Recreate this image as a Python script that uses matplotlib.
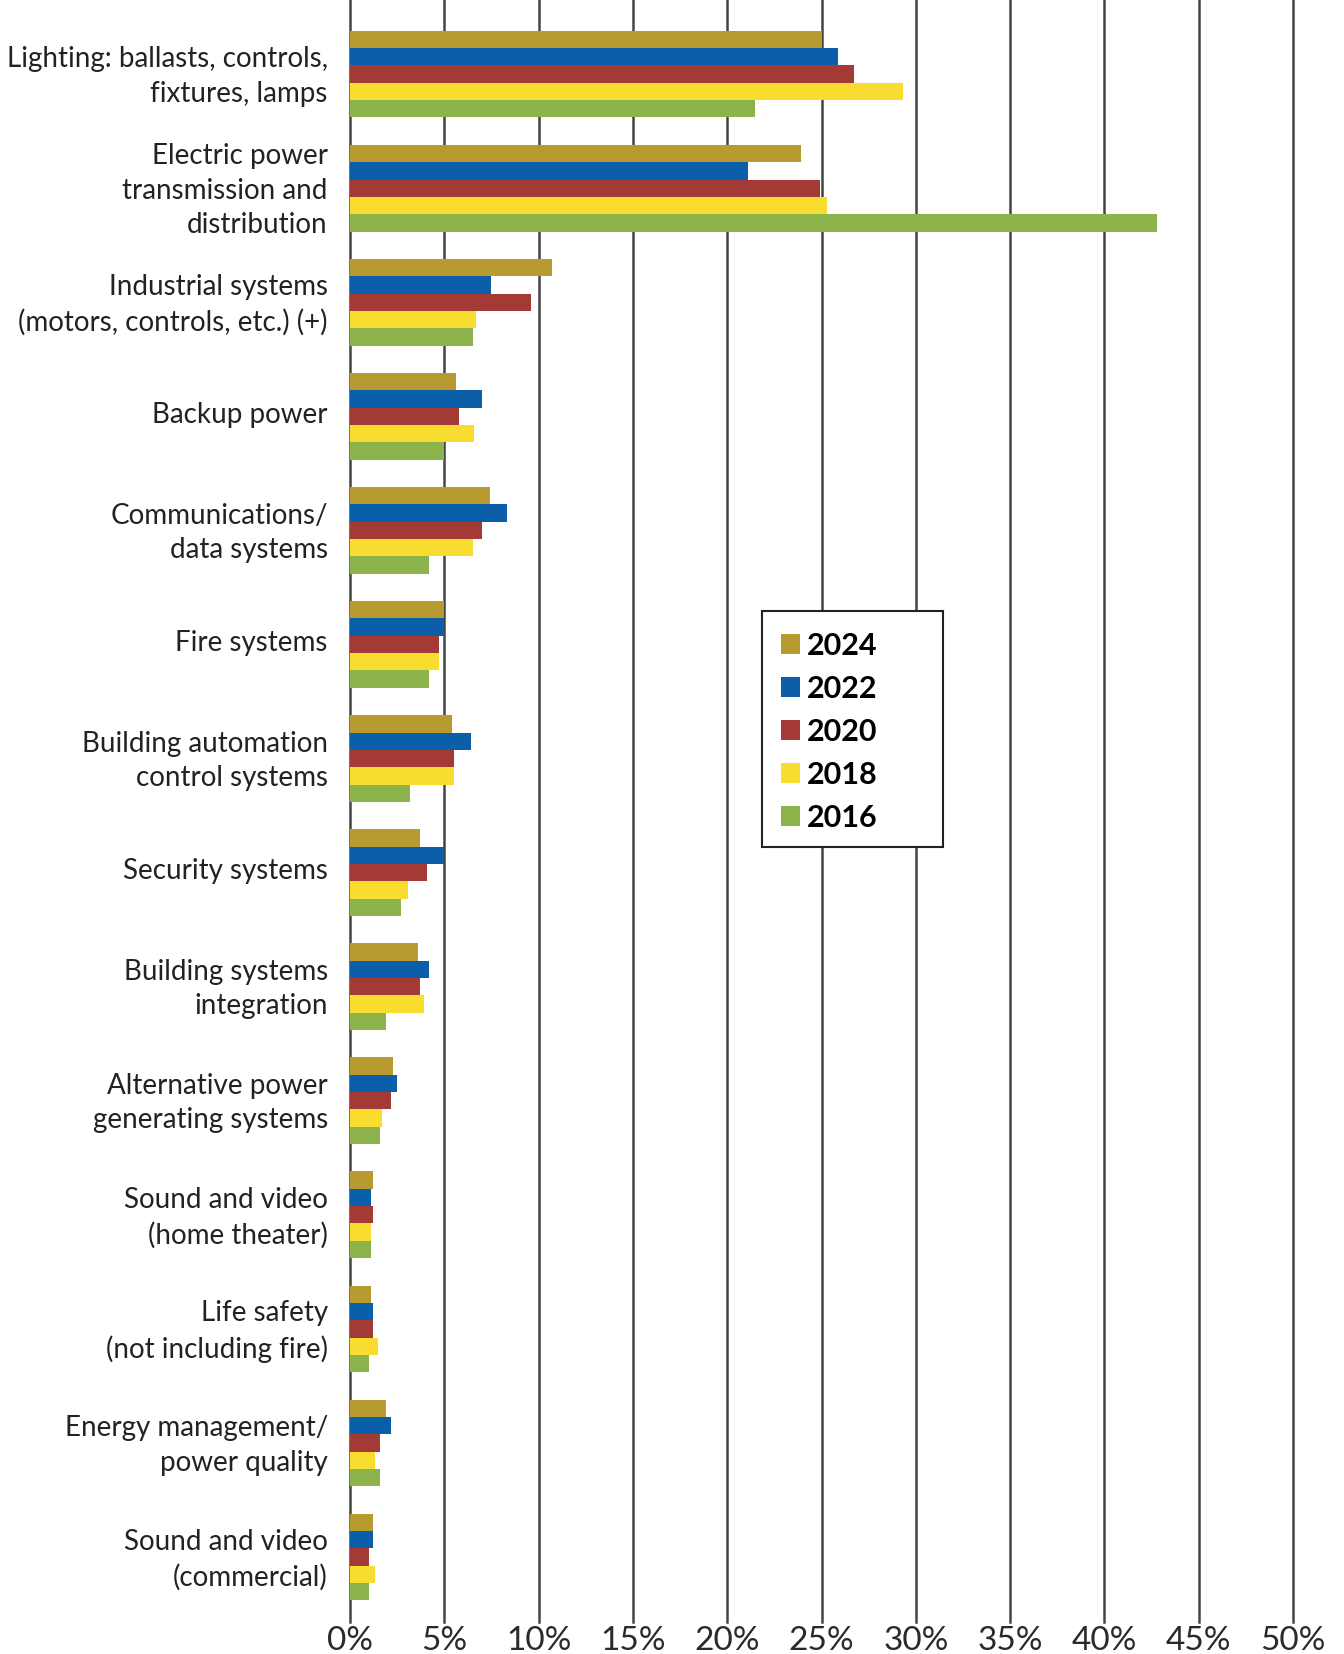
import matplotlib
matplotlib.use("Agg")
import matplotlib.pyplot as plt
import matplotlib.transforms as mtransforms
import numpy as np
from matplotlib.patches import Patch, Rectangle

categories = [
    "Lighting: ballasts, controls,\nfixtures, lamps",
    "Electric power\ntransmission and\ndistribution",
    "Industrial systems\n(motors, controls, etc.) (+)",
    "Backup power",
    "Communications/\ndata systems",
    "Fire systems",
    "Building automation\ncontrol systems",
    "Security systems",
    "Building systems\nintegration",
    "Alternative power\ngenerating systems",
    "Sound and video\n(home theater)",
    "Life safety\n(not including fire)",
    "Energy management/\npower quality",
    "Sound and video\n(commercial)",
]
years = ["2024", "2022", "2020", "2018", "2016"]
v2024 = [25.0, 23.9, 10.7, 5.6, 7.4, 5.0, 5.4, 3.7, 3.6, 2.3, 1.2, 1.1, 1.9, 1.2]
v2022 = [25.9, 21.1, 7.5, 7.0, 8.3, 5.0, 6.4, 5.0, 4.2, 2.5, 1.1, 1.2, 2.2, 1.2]
v2020 = [26.7, 24.9, 9.6, 5.8, 7.0, 4.7, 5.5, 4.1, 3.7, 2.2, 1.2, 1.2, 1.6, 1.0]
v2018 = [29.3, 25.3, 6.7, 6.6, 6.5, 4.7, 5.5, 3.1, 3.9, 1.7, 1.1, 1.5, 1.3, 1.3]
v2016 = [21.5, 42.8, 6.5, 5.0, 4.2, 4.2, 3.2, 2.7, 1.9, 1.6, 1.1, 1.0, 1.6, 1.0]
series = [v2024, v2022, v2020, v2018, v2016]
colors = ["#B89B30", "#0B5FA8", "#A33A36", "#F8DC30", "#8DB34C"]
xticks = [0, 5, 10, 15, 20, 25, 30, 35, 40, 45, 50]
xticklabels = [f"{t}%" for t in xticks]

FONT = ["Lato", "DejaVu Sans"]
plt.rcParams['font.family'] = FONT

W, H = 1344, 1654
fig = plt.figure(figsize=(W / 100, H / 100), dpi=100)
ax = fig.add_axes([350/W, 1 - 1622/H, (1293-350)/W, 1622/H])

n = len(categories)
y = np.arange(n)
h = 0.152
for i, (vals, c) in enumerate(zip(series, colors)):
    ax.barh(y + (i - 2) * h, vals, height=h, color=c, zorder=3, linewidth=0)

ax.set_ylim(n - 1 + 0.57, -0.65)
ax.set_xlim(0, 50)
ax.set_xticks(xticks)
ax.set_xticklabels(xticklabels, fontsize=24, color="#2a2a2a")
ax.set_yticks(y)
ax.set_yticklabels(categories, fontsize=20, color="#222222", linespacing=1.4)
ax.tick_params(axis='both', length=0)
ax.tick_params(axis='x', pad=3)
ax.tick_params(axis='y', pad=16)
shift = mtransforms.ScaledTranslation(0, 3/72, fig.dpi_scale_trans)
for lab in ax.get_yticklabels():
    lab.set_transform(lab.get_transform() + shift)
for s in ax.spines.values():
    s.set_visible(False)
for t in xticks:
    ax.axvline(t, color="#444444", lw=1.8, zorder=1, clip_on=False)

# legend
handles = [Patch(facecolor=c, edgecolor='none') for c in colors]
leg = fig.legend(handles, years, loc='upper left', bbox_to_anchor=(781/W, 1 - 632/H),
                 bbox_transform=fig.transFigure, borderaxespad=0, borderpad=0, frameon=False,
                 handlelength=0.62, handleheight=0.62, handletextpad=0.22,
                 labelspacing=0.49, prop={'family': FONT, 'weight': 'bold', 'size': 22})
frame = Rectangle((762/W, 1 - 847/H), (943-762)/W, (847-611)/H, transform=fig.transFigure,
                  facecolor='white', edgecolor='#222222', linewidth=1.5, zorder=4)
fig.patches.append(frame)
leg.set_zorder(5)

fig.savefig("out.png", dpi=100, facecolor="white")
